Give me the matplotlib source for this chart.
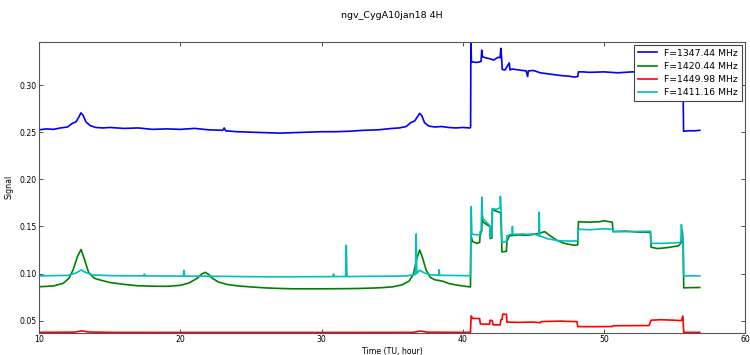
import numpy as np
import matplotlib.pyplot as plt

# Signal vs time for four frequency channels, Cygnus A drift, 10 Jan 2018
t_1347 = [10, 10.5, 11, 11.5, 12, 12.3, 12.6, 12.8, 12.95, 13.1, 13.3, 13.6, 14, 14.5, 15, 16, 17, 18,
          19, 20, 21, 22, 23, 23.1, 23.2, 24, 25, 26, 27, 28, 29, 30, 31, 32, 33, 34, 35, 35.5, 36,
          36.3, 36.6, 36.8, 36.95, 37.1, 37.3, 37.6, 38, 38.5, 39, 39.5, 40, 40.5, 40.56, 40.58,
          40.62, 40.7, 41, 41.3, 41.35, 41.4, 41.6, 41.9, 42.2, 42.5, 42.65, 42.7, 42.76, 42.8, 43,
          43.3, 43.35, 43.5, 44, 44.5, 44.6, 44.65, 45, 45.5, 46, 46.5, 47, 47.5, 47.9, 48.15, 48.2,
          48.5, 49, 50, 51, 52, 53, 54, 55, 55.6, 55.65, 56, 56.5, 56.8]
s_1347 = [0.2525, 0.2535, 0.2530, 0.2545, 0.2555, 0.2590, 0.2610, 0.2660, 0.2705, 0.2680, 0.2610,
          0.2570, 0.2550, 0.2545, 0.2550, 0.2540, 0.2545, 0.2530, 0.2535, 0.2530, 0.2540, 0.2525,
          0.2520, 0.2545, 0.2515, 0.2505, 0.2500, 0.2495, 0.2490, 0.2495, 0.2500, 0.2505, 0.2505,
          0.2510, 0.2520, 0.2525, 0.2540, 0.2545, 0.2560, 0.2600, 0.2620, 0.2665, 0.2700, 0.2675,
          0.2600, 0.2565, 0.2555, 0.2560, 0.2550, 0.2545, 0.2550, 0.2545, 0.2550, 0.3460, 0.3250,
          0.3245, 0.3240, 0.3250, 0.3370, 0.3300, 0.3290, 0.3280, 0.3265, 0.3295, 0.3290, 0.3390,
          0.3280, 0.3165, 0.3160, 0.3235, 0.3160, 0.3170, 0.3160, 0.3150, 0.3090, 0.3150, 0.3155,
          0.3130, 0.3120, 0.3110, 0.3100, 0.3095, 0.3085, 0.3090, 0.3140, 0.3140, 0.3135, 0.3140,
          0.3130, 0.3140, 0.3135, 0.3130, 0.3135, 0.3130, 0.2510, 0.2515, 0.2515, 0.2520]

t_1420 = [10, 11, 11.7, 12.1, 12.4, 12.7, 12.96, 13.2, 13.5, 13.9, 14.3, 15, 16, 17, 18, 19, 20, 20.6,
          21.2, 21.5, 21.76, 22, 22.3, 22.7, 23.3, 24, 25, 26, 27, 28, 30, 32, 33, 34, 35, 35.7, 36.2,
          36.5, 36.75, 36.95, 37.15, 37.4, 37.7, 38, 38.6, 39, 39.5, 40, 40.55, 40.58, 40.7, 41.0,
          41.2, 41.25, 41.35, 41.38, 41.42, 41.7, 41.92, 41.95, 42.08, 42.1, 42.4, 42.6, 42.7, 42.78,
          43.1, 43.13, 43.3, 44, 44.5, 45, 45.5, 45.8, 46.2, 46.7, 47.2, 47.9, 48.15, 48.2, 49, 49.7,
          50, 50.6, 50.65, 51.5, 52.5, 53.3, 53.35, 53.8, 54.5, 55.3, 55.5, 55.55, 55.62, 55.66, 56,
          56.8]
s_1420 = [0.0860, 0.0868, 0.0897, 0.0950, 0.1040, 0.1180, 0.1255, 0.1150, 0.1010, 0.0950, 0.0932,
          0.0905, 0.0885, 0.0870, 0.0866, 0.0864, 0.0875, 0.0900, 0.0950, 0.0995, 0.1013, 0.0990,
          0.0945, 0.0910, 0.0885, 0.0870, 0.0858, 0.0848, 0.0842, 0.0838, 0.0838, 0.0840, 0.0843,
          0.0848, 0.0858, 0.0880, 0.0920, 0.0990, 0.1160, 0.1250, 0.1170, 0.1040, 0.0960, 0.0935,
          0.0918, 0.0895, 0.0880, 0.0868, 0.0858, 0.1400, 0.1340, 0.1320, 0.1330, 0.1445, 0.1450,
          0.1640, 0.1550, 0.1520, 0.1500, 0.1370, 0.1380, 0.1680, 0.1660, 0.1650, 0.1640, 0.1230,
          0.1235, 0.1340, 0.1400, 0.1410, 0.1405, 0.1415, 0.1430, 0.1445, 0.1400, 0.1350, 0.1320,
          0.1300, 0.1305, 0.1550, 0.1545, 0.1550, 0.1560, 0.1545, 0.1445, 0.1450, 0.1440, 0.1440,
          0.1280, 0.1265, 0.1275, 0.1295, 0.1330, 0.1460, 0.1330, 0.0848, 0.0850, 0.0852]

t_1449 = [10, 12.5, 13, 13.5, 15, 20, 25, 30, 36.5, 37, 37.5, 40, 40.55, 40.6, 40.7, 41.2, 41.25, 41.9,
          41.94, 42.1, 42.15, 42.66, 42.7, 42.8, 42.83, 43.1, 43.13, 44, 45, 45.5, 45.55, 46, 47,
          47.5, 48.1, 48.15, 49, 50, 50.6, 50.65, 52, 53.2, 53.35, 54, 55, 55.5, 55.6, 55.66, 56.8]
s_1449 = [0.0376, 0.0378, 0.0392, 0.0380, 0.0376, 0.0375, 0.0375, 0.0375, 0.0376, 0.0390, 0.0378,
          0.0376, 0.0376, 0.0550, 0.0525, 0.0522, 0.0465, 0.0462, 0.0505, 0.0500, 0.0456, 0.0455,
          0.0510, 0.0512, 0.0568, 0.0568, 0.0485, 0.0482, 0.0485, 0.0478, 0.0490, 0.0492, 0.0495,
          0.0492, 0.0490, 0.0437, 0.0436, 0.0437, 0.0438, 0.0446, 0.0447, 0.0448, 0.0505, 0.0510,
          0.0505, 0.0500, 0.0550, 0.0376, 0.0376]

t_1411 = [10, 11, 12, 12.6, 12.96, 13.3, 13.8, 15, 16, 17.4, 17.45, 17.5, 19, 20.2, 20.25, 20.3, 22,
          24, 26, 28, 30, 30.8, 30.85, 30.9, 31.7, 31.75, 31.8, 33, 35, 36, 36.65, 36.7, 36.75, 36.95,
          37.3, 37.8, 38.3, 38.33, 38.36, 39, 40, 40.55, 40.6, 40.65, 41, 41.3, 41.36, 41.4, 41.7,
          41.92, 41.95, 42.08, 42.1, 42.4, 42.65, 42.67, 42.72, 42.78, 43.1, 43.13, 43.5, 43.52,
          43.56, 44.3, 44.5, 45.0, 45.4, 45.42, 45.46, 46, 46.7, 47.3, 47.9, 48.15, 48.2, 49, 50,
          50.6, 50.65, 52, 53.3, 53.35, 54, 55, 55.45, 55.5, 55.55, 55.62, 55.66, 56.8]
s_1411 = [0.0975, 0.0978, 0.0980, 0.1005, 0.1038, 0.1010, 0.0985, 0.0978, 0.0976, 0.0975, 0.0995,
          0.0975, 0.0974, 0.0973, 0.1035, 0.0973, 0.0972, 0.0968, 0.0966, 0.0966, 0.0967, 0.0968,
          0.0995, 0.0968, 0.0968, 0.1300, 0.0968, 0.0970, 0.0972, 0.0975, 0.0990, 0.1420, 0.1000,
          0.1035, 0.1005, 0.0985, 0.0982, 0.1040, 0.0982, 0.0980, 0.0978, 0.0976, 0.1710, 0.1420,
          0.1410, 0.1415, 0.1810, 0.1590, 0.1540, 0.1510, 0.1380, 0.1400, 0.1690, 0.1680, 0.1700,
          0.1820, 0.1670, 0.1330, 0.1340, 0.1400, 0.1420, 0.1500, 0.1415, 0.1420, 0.1415, 0.1420,
          0.1400, 0.1650, 0.1400, 0.1370, 0.1350, 0.1345, 0.1345, 0.1350, 0.1470, 0.1465, 0.1475,
          0.1470, 0.1445, 0.1445, 0.1450, 0.1320, 0.1320, 0.1325, 0.1330, 0.1520, 0.1360, 0.1350,
          0.0975, 0.0975]

channels = [
    ('F=1347.44 MHz', t_1347, s_1347, 'b'),
    ('F=1420.44 MHz', t_1420, s_1420, 'g'),
    ('F=1449.98 MHz', t_1449, s_1449, 'r'),
    ('F=1411.16 MHz', t_1411, s_1411, 'c'),
]

plt.rcParams['font.size'] = 5.6
plt.rcParams['xtick.direction'] = 'in'
plt.rcParams['ytick.direction'] = 'in'

fig = plt.figure(figsize=(7.5, 3.55), dpi=100)
ax = fig.add_axes([0.0524, 0.063, 0.9409, 0.8195])

for label, t, s, color in channels:
    ax.plot(np.array(t), np.array(s), '-', color=color, lw=1.2, label=label)

ax.set_xlim(10, 60)
ax.set_ylim(0.0373, 0.346)
ax.set_xticks(np.arange(10, 61, 10))
ax.set_yticks([0.05, 0.10, 0.15, 0.20, 0.25, 0.30])
ax.tick_params(top=True, right=True, length=3, width=0.6, pad=2, colors='#333333', labelcolor='black')
for sp in ax.spines.values():
    sp.set_linewidth(0.8)
    sp.set_color('#555555')

ax.set_xlabel('Time (TU, hour)', labelpad=2)
ax.set_ylabel('Signal', labelpad=4)
ax.set_title('ngv_CygA10jan18 4H', fontsize=6.8, pad=17)

leg = ax.legend(loc='upper right', fontsize=6.7, fancybox=False, framealpha=1,
                edgecolor='#444444', borderaxespad=0.3, handlelength=2.0,
                labelspacing=0.45, borderpad=0.45)
leg.get_frame().set_linewidth(0.8)

fig.savefig('out.png', dpi=100, facecolor='white')
